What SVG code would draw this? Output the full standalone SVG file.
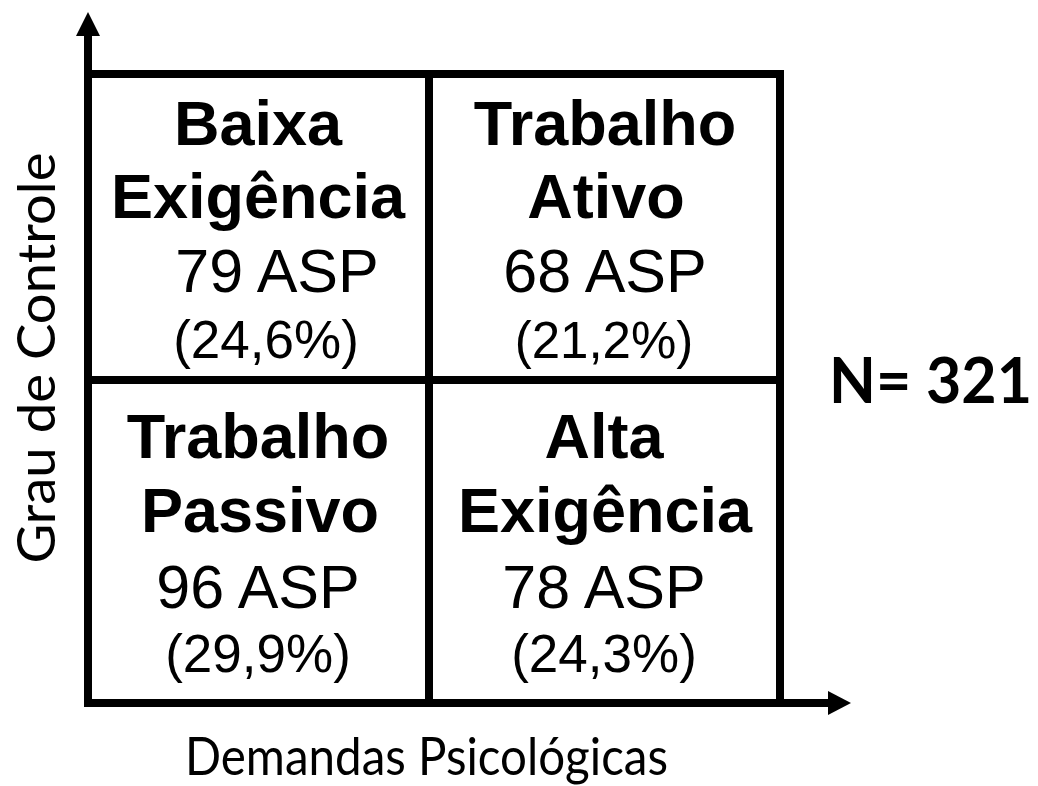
<svg xmlns="http://www.w3.org/2000/svg" width="1038" height="786" viewBox="0 0 1038 786">
<style>
.cell{fill:none;stroke:#000;stroke-width:8}
.axis{stroke:#000;stroke-width:8;fill:none}
.head{fill:#000}
.t{font-family:"Liberation Sans",Arial,sans-serif;font-weight:bold;font-size:63px;text-anchor:middle;fill:#000}
.n{font-family:"Liberation Sans",Arial,sans-serif;font-size:61px;text-anchor:middle;fill:#000}
.p{font-family:"Liberation Sans",Arial,sans-serif;font-size:53px;text-anchor:middle;fill:#000}
.lab{font-family:Lato,"Open Sans",sans-serif;fill:#000}
</style>
<rect width="1038" height="786" fill="#fff"/>
<g id="connectors">
<line class="axis" x1="88" y1="30" x2="88" y2="707"/>
<polygon class="head" points="88,12 76,36 100,36"/>
<line class="axis" x1="84" y1="703" x2="832" y2="703"/>
<polygon class="head" points="851,703 828,691 828,715"/>
</g>
<g id="baixa-exigencia">
<rect class="cell" x="88" y="74" width="341" height="306"/>
<text class="t" x="258" y="145">Baixa</text>
<text class="t" x="258" y="218">Exigência</text>
<text class="n" x="277" y="292">79 ASP</text>
<text class="p" x="266" y="358">(24,6%)</text>
</g>
<g id="trabalho-ativo">
<rect class="cell" x="429" y="74" width="351" height="306"/>
<text class="t" x="605" y="145">Trabalho</text>
<text class="t" x="606" y="218">Ativo</text>
<text class="n" x="605" y="292">68 ASP</text>
<text class="p" x="604" y="358" style="font-size:51px">(21,2%)</text>
</g>
<g id="trabalho-passivo">
<rect class="cell" x="88" y="380" width="341" height="323"/>
<text class="t" x="258" y="458">Trabalho</text>
<text class="t" x="260" y="532">Passivo</text>
<text class="n" x="258" y="608">96 ASP</text>
<text class="p" x="258" y="672">(29,9%)</text>
</g>
<g id="alta-exigencia">
<rect class="cell" x="429" y="380" width="351" height="323"/>
<text class="t" x="604" y="458">Alta</text>
<text class="t" x="605" y="532">Exigência</text>
<text class="n" x="604" y="608">78 ASP</text>
<text class="p" x="604" y="672">(24,3%)</text>
</g>
<g id="labels">
<text class="lab" transform="translate(55,358) rotate(-90)" text-anchor="middle" font-size="53" textLength="411" lengthAdjust="spacingAndGlyphs">Grau de Controle</text>
<text class="lab" x="185" y="775" font-size="52" textLength="483" lengthAdjust="spacingAndGlyphs">Demandas Psicológicas</text>
<text class="lab" x="829" y="403" font-size="63" font-weight="bold" textLength="203" lengthAdjust="spacingAndGlyphs">N= 321</text>
</g>
</svg>
